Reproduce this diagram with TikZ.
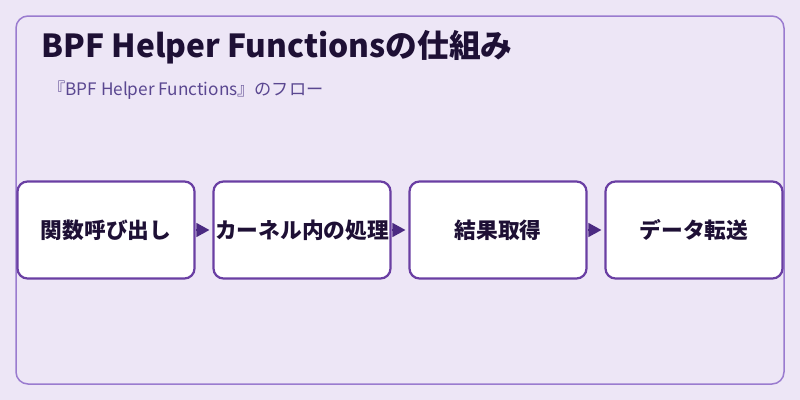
\documentclass[tikz,border=0pt]{standalone}
\usepackage{fontspec}
\setmainfont{Noto Sans CJK JP}
\usetikzlibrary{arrows.meta}
\definecolor{bgc}{HTML}{EDE6F6}
\definecolor{outerc}{HTML}{9A7BCF}
\definecolor{boxc}{HTML}{6A3FA3}
\definecolor{arrc}{HTML}{4B2A82}
\definecolor{titlec}{HTML}{1E1035}
\definecolor{subc}{HTML}{5A4790}
\tikzset{
  stepbox/.style={draw=boxc, line width=2.2pt*0.75, fill=white, rounded corners=7.5pt,
    minimum width=177*0.75pt, minimum height=97*0.75pt, inner sep=0pt,
    font=\fontsize{16.3}{19}\selectfont\bfseries, text=titlec},
  flow/.style={draw=arrc, line width=1pt, -{Triangle[length=9.75pt,width=10.5pt]}, fill=arrc, shorten >=2.25pt}
}
\begin{document}
\begin{tikzpicture}[x=0.75pt,y=-0.75pt]
\useasboundingbox (0,0) rectangle (800,400);
\fill[bgc] (0,0) rectangle (800,400);
\draw[outerc, line width=1.5pt*0.75, rounded corners=9pt] (16,16) rectangle (784,384);
\node[anchor=base west, font=\fontsize{23.8}{28}\selectfont\bfseries, text=titlec, inner sep=0pt] (title) at (41,57) {BPF Helper Functionsの仕組み};
\node[anchor=base west, font=\fontsize{12.9}{15}\selectfont, text=subc, inner sep=0pt] (sub) at (48,95) {『BPF Helper Functions』のフロー};
\node[stepbox] (b1) at (106,230) {関数呼び出し};
\node[stepbox] (b2) at (302,230) {カーネル内の処理};
\node[stepbox] (b3) at (498,230) {結果取得};
\node[stepbox] (b4) at (694,230) {データ転送};
\foreach \a/\b in {b1/b2,b2/b3,b3/b4}
  \draw[flow] (\a.east) -- (\b.west);
\end{tikzpicture}
\end{document}
